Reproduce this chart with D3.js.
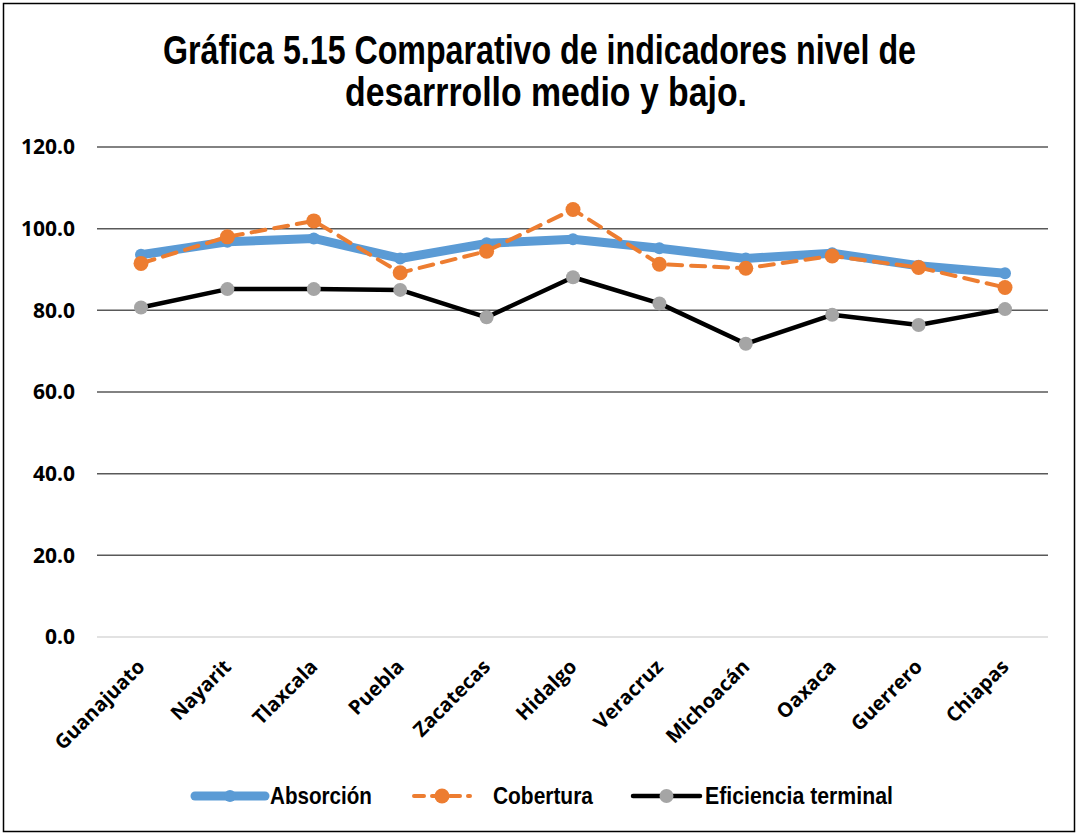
<!DOCTYPE html>
<meta charset="utf-8">
<style>
body { margin: 0; background: #fff; }
.grid line { stroke: #595959; stroke-width: 1.5px; }
.ylab { font: 700 21px "Open Sans", sans-serif; fill: #000; }
.xlab { font: 700 20px "Open Sans", sans-serif; fill: #000; }
.title { font: 700 40px "Liberation Sans", Arial, sans-serif; fill: #000; }
.legtext { font: 700 23px "Liberation Sans", Arial, sans-serif; fill: #000; }
</style>
<svg width="1078" height="836"></svg>
<script src="https://cdn.jsdelivr.net/npm/d3@7/dist/d3.min.js"></script>
<script>
var estados = ["Guanajuato", "Nayarit", "Tlaxcala", "Puebla", "Zacatecas", "Hidalgo",
               "Veracruz", "Michoacán", "Oaxaca", "Guerrero", "Chiapas"];
var absorcion  = [93.6, 96.8, 97.6, 92.7, 96.4, 97.4, 95.2, 92.7, 94.0, 90.9, 89.1];
var cobertura  = [91.5, 98.0, 101.9, 89.2, 94.5, 104.7, 91.3, 90.3, 93.3, 90.5, 85.6];
var eficiencia = [80.7, 85.2, 85.2, 85.0, 78.3, 88.1, 81.7, 71.8, 78.9, 76.4, 80.3];
var yTicks = [0, 20, 40, 60, 80, 100, 120];
var titulo = ["Gráfica 5.15 Comparativo de indicadores nivel de", "desarrrollo medio y bajo."];
var tituloLen = [753, 402];

var svg = d3.select("svg");

// marco exterior
svg.append("rect").attr("x", 3.5).attr("y", 3.5).attr("width", 1071).attr("height", 828)
   .attr("fill", "#fff").attr("stroke", "#000").attr("stroke-width", 1.5);

// titulo: fuente condensada simulada con scale horizontal
svg.selectAll(".title").data(titulo).enter().append("text")
   .attr("class", "title")
   .attr("text-anchor", "middle")
   .text(function(d) { return d; })
   .each(function(d, i) {
     var w = this.getComputedTextLength();
     var k = tituloLen[i] / w;
     var cx = i === 0 ? 163 + 753 / 2 : 345 + 402 / 2;
     d3.select(this).attr("transform", "translate(" + cx + "," + (64 + i * 42) + ") scale(" + k + ",1)");
   });

var x = d3.scalePoint().domain(estados).range([141, 1005]);
var y = d3.scaleLinear().domain([0, 120]).range([637, 147]);

var grid = svg.append("g").attr("class", "grid");
grid.selectAll("line").data(yTicks).enter().append("line")
   .attr("x1", 97).attr("x2", 1048)
   .attr("y1", function(d) { return y(d); }).attr("y2", function(d) { return y(d); })
   .style("stroke", function(d) { return d === 0 ? "#d9d9d9" : null; });

svg.selectAll(".ylab").data(yTicks).enter().append("text")
   .attr("class", "ylab")
   .attr("x", 75).attr("y", function(d) { return y(d); })
   .attr("dy", "0.35em").attr("text-anchor", "end")
   .text(function(d) { return d.toFixed(1); });

svg.selectAll(".xlab").data(estados).enter().append("text")
   .attr("class", "xlab")
   .attr("text-anchor", "end")
   .attr("transform", function(d) { return "translate(" + (x(d) + 5) + ",668) rotate(-45)"; })
   .text(function(d) { return d; });

var series = [
  {name: "Absorción", values: absorcion, color: "#5b9bd5", width: 9, dash: null, mark: "#5b9bd5", r: 6},
  {name: "Cobertura", values: cobertura, color: "#ed7d31", width: 4, dash: "14,9", mark: "#ed7d31", r: 7.5},
  {name: "Eficiencia terminal", values: eficiencia, color: "#000", width: 4.5, dash: null, mark: "#a5a5a5", r: 7}
];

var line = d3.line()
   .x(function(d, i) { return x(estados[i]); })
   .y(function(d) { return y(d); });

series.forEach(function(s) {
  var g = svg.append("g");
  g.append("path").attr("d", line(s.values))
   .attr("fill", "none").attr("stroke", s.color).attr("stroke-width", s.width)
   .attr("stroke-linejoin", "round").attr("stroke-linecap", "round")
   .attr("stroke-dasharray", s.dash);
  g.selectAll("circle").data(s.values).enter().append("circle")
   .attr("cx", function(d, i) { return x(estados[i]); })
   .attr("cy", function(d) { return y(d); })
   .attr("r", s.r).attr("fill", s.mark);
});

// leyenda
var legX = [195, 414, 633];
var legLen = [70, 56, 67];
var legTxt = [[270, 102], [493, 100], [705, 188]];
series.forEach(function(s, i) {
  var g = svg.append("g").attr("transform", "translate(" + legX[i] + ",796)");
  g.append("line").attr("x1", 0).attr("x2", legLen[i]).attr("y1", 0).attr("y2", 0)
   .attr("stroke", s.color).attr("stroke-width", s.width)
   .attr("stroke-linecap", "round")
   .attr("stroke-dasharray", s.dash ? "10,8" : null);
  g.append("circle").attr("cx", legLen[i] / 2).attr("cy", 0).attr("r", s.r).attr("fill", s.mark);
  g.append("text").attr("class", "legtext")
   .attr("dy", "0.36em")
   .text(s.name)
   .each(function() {
     var k = legTxt[i][1] / this.getComputedTextLength();
     d3.select(this).attr("transform", "translate(" + (legTxt[i][0] - legX[i]) + ",0) scale(" + k + ",1)");
   });
});
</script>
